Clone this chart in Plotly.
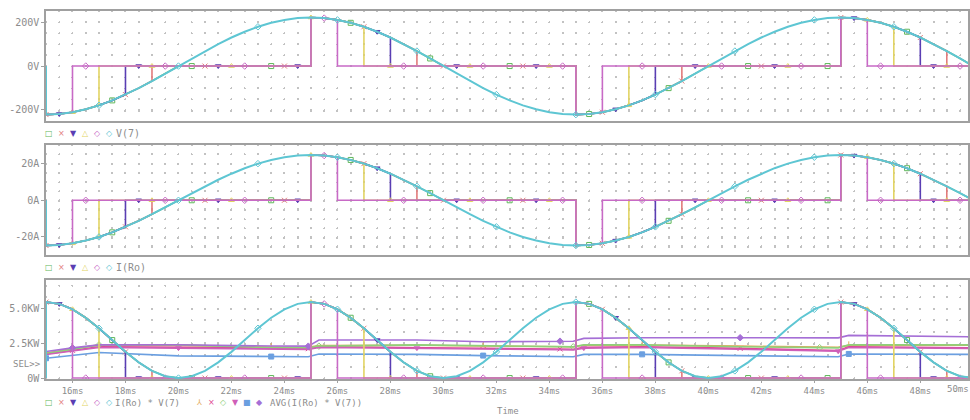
import plotly.graph_objects as go

# ---------------- data ----------------
TIME_MS = [15.0, 15.5, 16.0, 16.5, 17.0, 17.5, 18.0, 18.5, 19.0, 19.5,
           20.0, 20.5, 21.0, 21.5, 22.0, 22.5, 23.0, 23.5, 24.0, 24.5,
           25.0, 25.5, 26.0, 26.5, 27.0, 27.5, 28.0, 28.5, 29.0, 29.5,
           30.0, 30.5, 31.0, 31.5, 32.0, 32.5, 33.0, 33.5, 34.0, 34.5,
           35.0, 35.5, 36.0, 36.5, 37.0, 37.5, 38.0, 38.5, 39.0, 39.5,
           40.0, 40.5, 41.0, 41.5, 42.0, 42.5, 43.0, 43.5, 44.0, 44.5,
           45.0, 45.5, 46.0, 46.5, 47.0, 47.5, 48.0, 48.5, 49.0, 49.5,
           50.0]

V7 = [-222.0, -219.3, -211.1, -197.8, -179.6, -157.0, -130.5, -100.8, -68.6, -34.7,
      0.0, 34.7, 68.6, 100.8, 130.5, 157.0, 179.6, 197.8, 211.1, 219.3,
      222.0, 219.3, 211.1, 197.8, 179.6, 157.0, 130.5, 100.8, 68.6, 34.7,
      0.0, -34.7, -68.6, -100.8, -130.5, -157.0, -179.6, -197.8, -211.1, -219.3,
      -222.0, -219.3, -211.1, -197.8, -179.6, -157.0, -130.5, -100.8, -68.6, -34.7,
      0.0, 34.7, 68.6, 100.8, 130.5, 157.0, 179.6, 197.8, 211.1, 219.3,
      222.0, 219.3, 211.1, 197.8, 179.6, 157.0, 130.5, 100.8, 68.6, 34.7,
      0.0]

I_RO = [-24.7, -24.4, -23.5, -22.0, -20.0, -17.5, -14.5, -11.2, -7.6, -3.9,
        0.0, 3.9, 7.6, 11.2, 14.5, 17.5, 20.0, 22.0, 23.5, 24.4,
        24.7, 24.4, 23.5, 22.0, 20.0, 17.5, 14.5, 11.2, 7.6, 3.9,
        0.0, -3.9, -7.6, -11.2, -14.5, -17.5, -20.0, -22.0, -23.5, -24.4,
        -24.7, -24.4, -23.5, -22.0, -20.0, -17.5, -14.5, -11.2, -7.6, -3.9,
        0.0, 3.9, 7.6, 11.2, 14.5, 17.5, 20.0, 22.0, 23.5, 24.4,
        24.7, 24.4, 23.5, 22.0, 20.0, 17.5, 14.5, 11.2, 7.6, 3.9,
        0.0]

P_KW = [5.48, 5.35, 4.96, 4.35, 3.59, 2.74, 1.89, 1.13, 0.52, 0.13,
        0.0, 0.13, 0.52, 1.13, 1.89, 2.74, 3.59, 4.35, 4.96, 5.35,
        5.48, 5.35, 4.96, 4.35, 3.59, 2.74, 1.89, 1.13, 0.52, 0.13,
        0.0, 0.13, 0.52, 1.13, 1.89, 2.74, 3.59, 4.35, 4.96, 5.35,
        5.48, 5.35, 4.96, 4.35, 3.59, 2.74, 1.89, 1.13, 0.52, 0.13,
        0.0, 0.13, 0.52, 1.13, 1.89, 2.74, 3.59, 4.35, 4.96, 5.35,
        5.48, 5.35, 4.96, 4.35, 3.59, 2.74, 1.89, 1.13, 0.52, 0.13,
        0.0]

# firing instants and conduction time of each parametric run (ms)
FIRE_MS = [15, 25, 35, 45]
RUN_CONDUCT_MS = [5, 4, 3, 2, 1, 10]   # last run conducts the whole time

# running averages AVG(I(Ro)*V(7)) in kW
AVG_T = [15.0, 16.0, 17.0, 20.0, 23.5, 24.9, 25.3, 29.0, 31.5, 34.4,
         34.9, 35.3, 37.5, 41.2, 44.2, 44.9, 45.3, 49.9]
AVG_ORANGE = [1.80, 2.13, 2.37, 2.36, 2.24, 2.22, 2.34, 2.37, 2.31, 2.27,
              2.26, 2.37, 2.38, 2.30, 2.24, 2.22, 2.36, 2.37]
AVG_PINK = [1.74, 2.00, 2.26, 2.21, 2.14, 2.12, 2.26, 2.21, 2.14, 2.10,
            2.08, 2.21, 2.26, 2.14, 1.98, 1.98, 2.26, 2.19]
AVG_GREEN = [1.76, 2.10, 2.39, 2.39, 2.19, 2.18, 2.30, 2.39, 2.33, 2.26,
             2.25, 2.39, 2.39, 2.26, 2.19, 2.18, 2.39, 2.39]
AVG_MAGENTA = [1.70, 1.96, 2.20, 2.16, 2.09, 2.07, 2.20, 2.16, 2.10, 2.05,
               2.03, 2.16, 2.20, 2.09, 1.95, 1.94, 2.20, 2.14]
AVG_BLUE = [1.43, 1.65, 1.84, 1.60, 1.55, 1.54, 1.74, 1.71, 1.62, 1.55,
            1.54, 1.71, 1.71, 1.62, 1.55, 1.54, 1.74, 1.71]
AVG_LAVENDER = [1.91, 2.18, 2.39, 2.40, 2.31, 2.30, 2.74, 2.74, 2.62, 2.66,
                2.66, 2.86, 2.91, 2.91, 2.91, 2.90, 3.08, 2.98]

X_TICKS = [16, 18, 20, 22, 24, 26, 28, 30, 32, 34, 36, 38, 40, 42, 44, 46, 48]
X_TICK_TEXT = [f"{t}ms" for t in X_TICKS]
V_TICKS, V_TICK_TEXT = [-200, 0, 200], ["-200V", "0V", "200V"]
I_TICKS, I_TICK_TEXT = [-20, 0, 20], ["-20A", "0A", "20A"]
P_TICKS, P_TICK_TEXT = [0, 2.5, 5.0], ["0W", "2.5KW", "5.0KW"]

# ---------------- styles ----------------
W, H = 970, 420
RUN_COLORS = ["#5fb85a", "#e27b7b", "#5a3eb3", "#e2d463", "#c86ac6", "#5ec6d3"]
RUN_SYMBOLS = ["square-open", "x-thin-open", "triangle-down", "triangle-up-open",
               "diamond-open", "diamond-open"]
RUN_GLYPHS = ["\u25a1", "\u00d7", "\u25bc", "\u25b3", "\u25c7", "\u25c7"]
RUN_MARK_OFFSET = [5, 0, 1, 2, 3, 4]
AVG_SERIES = [AVG_ORANGE, AVG_PINK, AVG_GREEN, AVG_MAGENTA, AVG_BLUE, AVG_LAVENDER]
AVG_COLORS = ["#e3a95a", "#e0468f", "#8fd07a", "#cf5fb8", "#6b9fe0", "#a56fd6"]
AVG_SYMBOLS = ["y-up-open", "x-thin-open", "diamond-open", "triangle-down",
               "square", "diamond"]
AVG_GLYPHS = ["\u2144", "\u00d7", "\u25c7", "\u25bc", "\u25a0", "\u25c6"]
TEXT = "#8c8c8c"
BORDER = "#a0a0a0"
GRID = "#c2c2c2"
MONO = "DejaVu Sans Mono"

X_PX = (46.0, 968.0)
X_RANGE = [15.0, 49.8]
PANELS_PX = [(11.5, 121.9), (146.7, 257.7), (282.5, 383.0)]
Y_RANGES = [[-250, 250], [-30, 30], [-0.093, 7.086]]
Y_STEPS = [50, 5, 2.5 / 3]
X_STEP = 0.5


def dots(c, p, w=1.5):
    c = c % p
    a = c - w / 2
    if a < 0:
        a += p
    if a + w <= p:
        return f"0px,{a:.2f}px,{w:.2f}px,{p - a - w:.2f}px"
    over = a + w - p
    return f"{over:.2f}px,{a - over:.2f}px,{p - a:.2f}px,0px"


def gate(values, dur):
    on = [any(f <= t <= f + dur for f in FIRE_MS) for t in TIME_MS]
    xs, ys = [], []
    n = len(TIME_MS)
    for i, t in enumerate(TIME_MS):
        if on[i] and (i == 0 or not on[i - 1]):
            xs.append(t); ys.append(0.0)
        xs.append(t); ys.append(values[i] if on[i] else 0.0)
        if on[i] and i + 1 < n and not on[i + 1]:
            xs.append(t); ys.append(0.0)
    grid = [values[i] if on[i] else 0.0 for i in range(n)]
    return xs, ys, grid


fig = go.Figure()
panel_values = [V7, I_RO, P_KW]

for k, vals in enumerate(panel_values):
    xa = "x" if k == 0 else f"x{k + 1}"
    ya = "y" if k == 0 else f"y{k + 1}"
    if k == 2:
        for j, (series, col, sym) in enumerate(zip(AVG_SERIES, AVG_COLORS, AVG_SYMBOLS)):
            fig.add_trace(go.Scatter(x=AVG_T, y=series, mode="lines", xaxis=xa, yaxis=ya,
                                     line=dict(color=col, width=1.6), hoverinfo="skip"))
            idx = [i for i in range(len(AVG_T)) if i % 4 == j % 4]
            fig.add_trace(go.Scatter(x=[AVG_T[i] for i in idx], y=[series[i] for i in idx],
                                     mode="markers", xaxis=xa, yaxis=ya, hoverinfo="skip",
                                     marker=dict(symbol=sym, size=5, color=col,
                                                 line=dict(color=col, width=1))))
    for r, dur in enumerate(RUN_CONDUCT_MS):
        xs, ys, grid = gate(vals, dur)
        col = RUN_COLORS[r]
        fig.add_trace(go.Scatter(x=xs, y=ys, mode="lines", xaxis=xa, yaxis=ya,
                                 line=dict(color=col, width=2.0 if r == 5 else 1.6),
                                 hoverinfo="skip"))
        idx = [i for i in range(len(TIME_MS)) if i % 6 == RUN_MARK_OFFSET[r]]
        fig.add_trace(go.Scatter(x=[TIME_MS[i] for i in idx], y=[grid[i] for i in idx],
                                 mode="markers", xaxis=xa, yaxis=ya, hoverinfo="skip",
                                 marker=dict(symbol=RUN_SYMBOLS[r], size=5, color=col,
                                             line=dict(color=col, width=1))))

px_per_ms = (X_PX[1] - X_PX[0]) / (X_RANGE[1] - X_RANGE[0])
h_pattern = dots(0.0, X_STEP * px_per_ms)
layout = dict(width=W, height=H, margin=dict(l=0, r=0, t=0, b=0),
              paper_bgcolor="white", plot_bgcolor="white", showlegend=False,
              font=dict(family=MONO, size=10, color=TEXT))

y_ticks = [(V_TICKS, V_TICK_TEXT), (I_TICKS, I_TICK_TEXT), (P_TICKS, P_TICK_TEXT)]
for k in range(3):
    top_px, bot_px = PANELS_PX[k]
    lo, hi = Y_RANGES[k]
    px_per_unit = (bot_px - top_px) / (hi - lo)
    step = Y_STEPS[k]
    first_below = (hi // step) * step
    v_pattern = dots((hi - first_below) * px_per_unit, step * px_per_unit)
    xname = "xaxis" if k == 0 else f"xaxis{k + 1}"
    yname = "yaxis" if k == 0 else f"yaxis{k + 1}"
    layout[xname] = dict(
        domain=[X_PX[0] / W, X_PX[1] / W], range=X_RANGE,
        anchor="y" if k == 0 else f"y{k + 1}",
        tickmode="array", tickvals=X_TICKS, ticktext=X_TICK_TEXT,
        showticklabels=(k == 2), ticks="outside" if k == 2 else "", ticklen=2,
        tickcolor=BORDER, tickfont=dict(family=MONO, size=9, color=TEXT),
        showline=True, mirror=True, linecolor=BORDER, linewidth=1.5,
        showgrid=True, gridcolor=GRID, gridwidth=1.5, griddash=v_pattern,
        minor=dict(dtick=X_STEP, tick0=X_RANGE[0], showgrid=True, gridcolor=GRID,
                   gridwidth=1.5, griddash=v_pattern, ticks=""),
        zeroline=False,
    )
    if k > 0:
        layout[xname]["matches"] = "x"
    tv, tt = y_ticks[k]
    layout[yname] = dict(
        domain=[1 - bot_px / H, 1 - top_px / H], range=[lo, hi],
        anchor="x" if k == 0 else f"x{k + 1}",
        tickmode="array", tickvals=tv, ticktext=tt,
        ticks="outside", ticklen=3, tickcolor=BORDER,
        tickfont=dict(family=MONO, size=10, color=TEXT),
        showline=True, mirror=True, linecolor=BORDER, linewidth=1.5,
        showgrid=True, gridcolor=GRID, gridwidth=1.5, griddash=h_pattern,
        minor=dict(dtick=step, tick0=0, showgrid=True, gridcolor=GRID,
                   gridwidth=1.5, griddash=h_pattern, ticks=""),
        zeroline=False,
    )

ann = []


def text_at(x_px, y_px, text, color=TEXT, size=10, family=MONO, anchor="left"):
    ann.append(dict(x=x_px / W, y=1 - y_px / H, xref="paper", yref="paper",
                    text=text, showarrow=False, xanchor=anchor, yanchor="middle",
                    font=dict(family=family, size=size, color=color)))


def glyph_row(y_px, x0, glyphs, colors):
    for i, (g, c) in enumerate(zip(glyphs, colors)):
        text_at(x0 + 12 * i, y_px, g, color=c, size=8, family="DejaVu Sans", anchor="center")


glyph_row(134.5, 49, RUN_GLYPHS, RUN_COLORS)
text_at(114, 134.5, "V(7)")
glyph_row(270, 49, RUN_GLYPHS, RUN_COLORS)
text_at(114, 270, "I(Ro)")
glyph_row(406.5, 49, RUN_GLYPHS, RUN_COLORS)
text_at(113, 406.5, "I(Ro) * V(7)", size=9)
glyph_row(406.5, 199, AVG_GLYPHS, AVG_COLORS)
text_at(268, 406.5, "AVG(I(Ro) * V(7))", size=9)
text_at(27, 368, "SEL>>", anchor="center", size=9)
text_at(958, 392.5, "50ms", anchor="center", size=9)
text_at(508, 414.5, "Time", anchor="center", size=9)

layout["annotations"] = ann
fig.update_layout(**layout)
fig.write_html("out.html")
